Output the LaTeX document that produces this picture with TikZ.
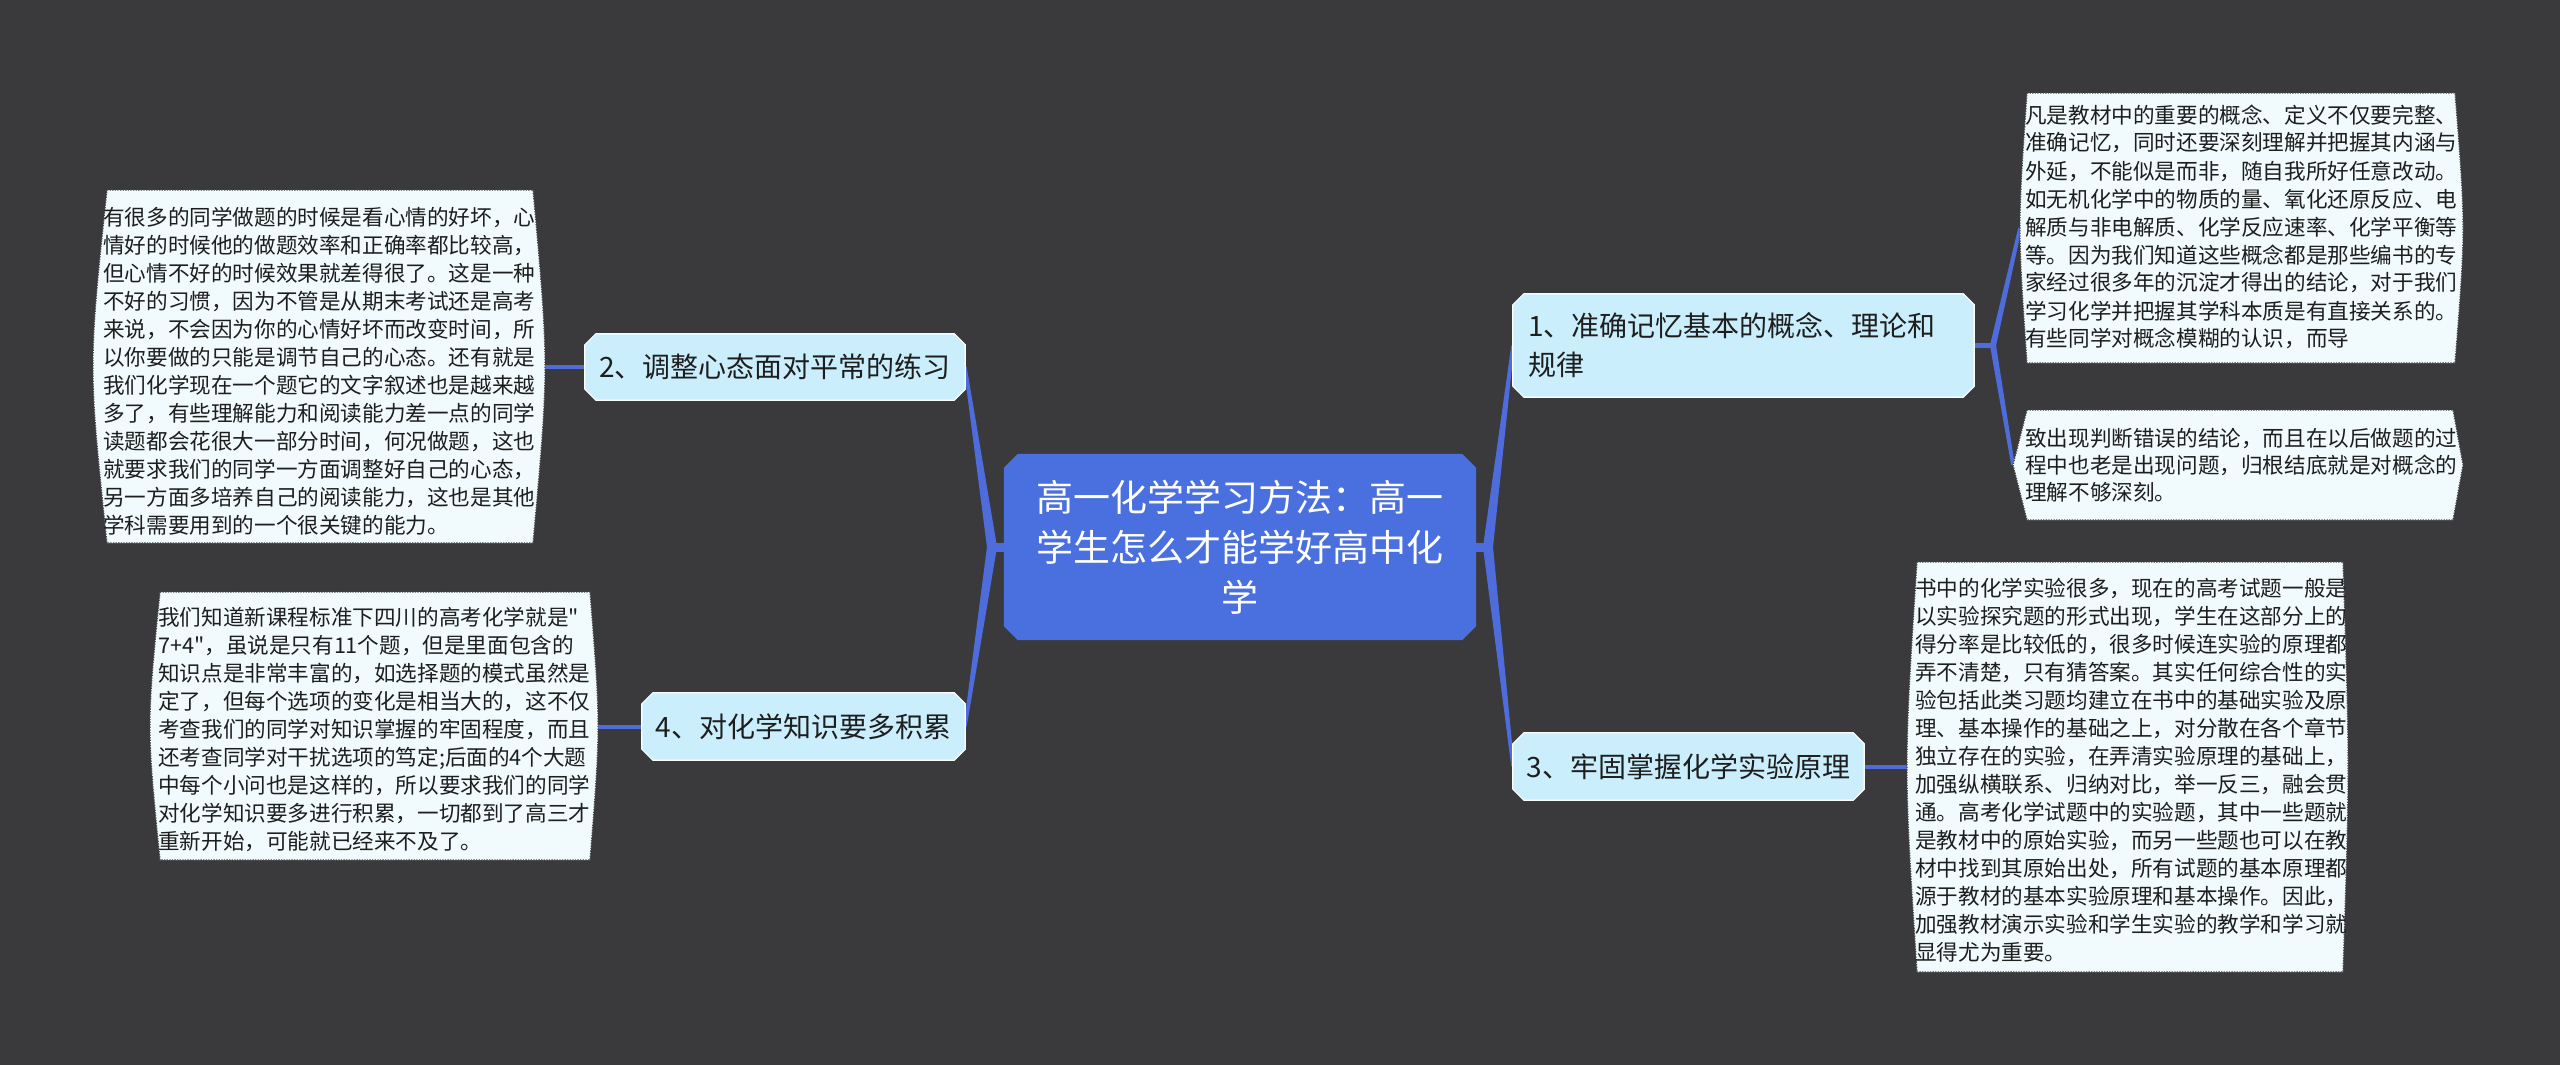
\documentclass[tikz,border=0pt]{standalone}
\usepackage{fontspec}
\setmainfont{Noto Sans CJK SC}
\newfontfamily\cjkplain{Noto Sans CJK SC}
\usetikzlibrary{calc,backgrounds}
\definecolor{bg}{RGB}{58,57,60}
\definecolor{hubblue}{RGB}{74,111,222}
\definecolor{link}{RGB}{78,108,220}
\definecolor{branchfill}{RGB}{202,238,252}
\definecolor{leaffill}{RGB}{241,250,252}
\definecolor{leafline}{RGB}{70,70,70}
\definecolor{ink}{RGB}{30,30,30}
% chamfered outline behind a named node
\newcommand\chamf[3]{\path[#3] ([xshift=#2]#1.north west) -- ([xshift=-#2]#1.north east) -- ([yshift=-#2]#1.north east) -- ([yshift=#2]#1.south east) -- ([xshift=-#2]#1.south east) -- ([xshift=#2]#1.south west) -- ([yshift=#2]#1.south west) -- ([yshift=-#2]#1.north west) -- cycle;}
% tapered connector from #1 (half width #3) to #2 (half width #4)
\newcommand\taper[4]{\fill[link] ($(#1)!#3!90:(#2)$) -- ($(#2)!#4!-90:(#1)$) -- ($(#2)!#4!90:(#1)$) -- ($(#1)!#3!-90:(#2)$) -- cycle;}
% leaf box with bowed sides: style, L, R, T, B, left bulge, right bulge
\newcommand\leafcurve[7]{\path[#1] (#2,#4) -- (#3,#4) .. controls ({#3+1.333*#7},{(#4+#5)/2}) .. (#3,#5) -- (#2,#5) .. controls ({#2-1.333*#6},{(#4+#5)/2}) .. (#2,#4) -- cycle;}
\newcommand\leafhex[7]{\path[#1] (#2,#4) -- (#3,#4) -- ({#3+#7},{(#4+#5)/2}) -- (#3,#5) -- (#2,#5) -- ({#2-#6},{(#4+#5)/2}) -- cycle;}
\begin{document}
\begin{tikzpicture}[x=1pt,y=-1pt,
  leaftext/.style={inner sep=0pt, text=ink, font=\cjkplain\fontsize{21.6pt}{28pt}\selectfont},
  leaftextb/.style={inner sep=0pt, text=ink, font=\cjkplain\fontsize{21.6pt}{27pt}\selectfont},
  branch/.style={inner sep=0pt, text=ink, font=\cjkplain\fontsize{28pt}{39pt}\selectfont},
  central/.style={inner sep=0pt, text=white, align=center, font=\cjkplain\fontsize{37pt}{50pt}\selectfont},
  branchbox/.style={fill=branchfill, draw=white, line width=1.2pt},
  centralbox/.style={fill=hubblue},
  leafshape/.style={fill=leaffill, draw=leafline, line width=1.2pt, dash pattern=on 1.3pt off 1.3pt},
  linkline/.style={draw=link, line width=4pt}]
\useasboundingbox (0,0) rectangle (2560,1065);

% main nodes
\node[central, minimum width=472pt, minimum height=186pt] (c) at (1240,547) {高一化学学习方法：高一\\学生怎么才能学好高中化\\学};
\node[branch, minimum width=380pt, minimum height=66pt] (n2) at (775,367) {2、调整心态面对平常的练习};
\node[branch, minimum width=323pt, minimum height=67pt] (n4) at (803.5,726.5) {4、对化学知识要多积累};
\node[branch, minimum width=461pt, minimum height=103pt, text width=431pt, align=left] (n1) at (1743.5,345.5) {1、准确记忆基本的概念、理论和\\规律};
\node[branch, minimum width=351pt, minimum height=67pt] (n3) at (1688.5,766.5) {3、牢固掌握化学实验原理};

% leaf texts
\node[leaftext, anchor=base west] (t2) at (103,225) {\parbox[t]{440pt}{有很多的同学做题的时候是看心情的好坏，心\\情好的时候他的做题效率和正确率都比较高，\\但心情不好的时候效果就差得很了。这是一种\\不好的习惯，因为不管是从期末考试还是高考\\来说，不会因为你的心情好坏而改变时间，所\\以你要做的只能是调节自己的心态。还有就是\\我们化学现在一个题它的文字叙述也是越来越\\多了，有些理解能力和阅读能力差一点的同学\\读题都会花很大一部分时间，何况做题，这也\\就要求我们的同学一方面调整好自己的心态，\\另一方面多培养自己的阅读能力，这也是其他\\学科需要用到的一个很关键的能力。}};
\node[leaftext, anchor=base west] (t4) at (158,625) {\parbox[t]{440pt}{我们知道新课程标准下四川的高考化学就是"\\7+4"，虽说是只有11个题，但是里面包含的\\知识点是非常丰富的，如选择题的模式虽然是\\定了，但每个选项的变化是相当大的，这不仅\\考查我们的同学对知识掌握的牢固程度，而且\\还考查同学对干扰选项的笃定;后面的4个大题\\中每个小问也是这样的，所以要求我们的同学\\对化学知识要多进行积累，一切都到了高三才\\重新开始，可能就已经来不及了。}};
\node[leaftext, anchor=base west] (t1a) at (2025,123) {\parbox[t]{440pt}{凡是教材中的重要的概念、定义不仅要完整、\\准确记忆，同时还要深刻理解并把握其内涵与\\外延，不能似是而非，随自我所好任意改动。\\如无机化学中的物质的量、氧化还原反应、电\\解质与非电解质、化学反应速率、化学平衡等\\等。因为我们知道这些概念都是那些编书的专\\家经过很多年的沉淀才得出的结论，对于我们\\学习化学并把握其学科本质是有直接关系的。\\有些同学对概念模糊的认识，而导}};
\node[leaftextb, anchor=base west] (t1b) at (2025,446) {\parbox[t]{440pt}{致出现判断错误的结论，而且在以后做题的过\\程中也老是出现问题，归根结底就是对概念的\\理解不够深刻。}};
\node[leaftext, anchor=base west] (t3) at (1915,596) {\parbox[t]{440pt}{书中的化学实验很多，现在的高考试题一般是\\以实验探究题的形式出现，学生在这部分上的\\得分率是比较低的，很多时候连实验的原理都\\弄不清楚，只有猜答案。其实任何综合性的实\\验包括此类习题均建立在书中的基础实验及原\\理、基本操作的基础之上，对分散在各个章节\\独立存在的实验，在弄清实验原理的基础上，\\加强纵横联系、归纳对比，举一反三，融会贯\\通。高考化学试题中的实验题，其中一些题就\\是教材中的原始实验，而另一些题也可以在教\\材中找到其原始出处，所有试题的基本原理都\\源于教材的基本实验原理和基本操作。因此，\\加强教材演示实验和学生实验的教学和学习就\\显得尤为重要。}};

% connector points
\coordinate (hl) at (992,547);
\coordinate (hr) at (1488,547);
\coordinate (h1) at (1993,345.5);
\coordinate (l2) at (545,367);
\coordinate (l4) at (598,726.5);
\coordinate (l1a) at (2020,228);
\coordinate (l1b) at (2013,465);
\coordinate (l3) at (1907,766.5);

\begin{pgfonlayer}{background}
\fill[bg] (0,0) rectangle (2560,1065);
% connectors
\draw[link, line width=9pt] (c.west) -- (hl);
\draw[link, line width=9pt] (c.east) -- (hr);
\taper{hl}{n2.east}{5pt}{1.5pt}
\taper{hl}{n4.east}{5pt}{1.5pt}
\taper{hr}{n1.west}{5pt}{1.5pt}
\taper{hr}{n3.west}{5pt}{1.5pt}
\draw[linkline, line width=5pt] (n1.east) -- (h1);
\taper{h1}{l1a}{3pt}{1.8pt}
\taper{h1}{l1b}{3pt}{1.8pt}
\draw[linkline] (n2.west) -- (l2);
\draw[linkline] (n4.west) -- (l4);
\draw[linkline] (n3.east) -- (l3);
% leaf boxes
\leafcurve{leafshape}{107}{533}{190}{543}{14}{12}
\leafcurve{leafshape}{160}{590}{592}{860}{10}{8}
\leafcurve{leafshape}{2027}{2455}{93}{363}{7}{8}
\leafhex{leafshape}{2027}{2453}{410}{520}{14}{10}
\leafcurve{leafshape}{1917}{2343}{562}{972}{10}{5}
% node boxes
\chamf{c}{14pt}{centralbox}
\chamf{n2}{11pt}{branchbox}
\chamf{n4}{11pt}{branchbox}
\chamf{n1}{11pt}{branchbox}
\chamf{n3}{11pt}{branchbox}
\end{pgfonlayer}
\end{tikzpicture}
\end{document}
